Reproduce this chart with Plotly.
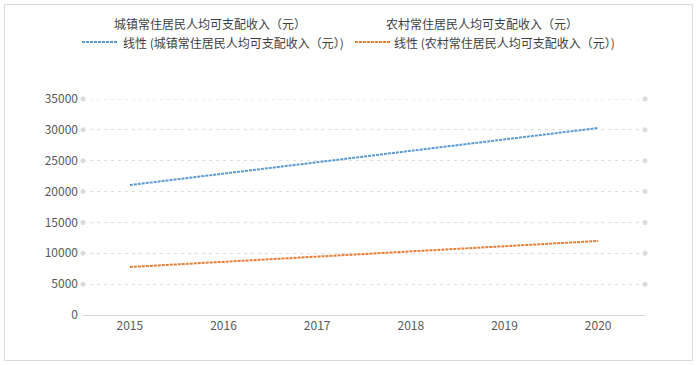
import numpy as np
import plotly.graph_objects as go

years = [2015, 2016, 2017, 2018, 2019, 2020]
urban = [21060, 22910, 24750, 26600, 28450, 30300]
rural = [7780, 8620, 9460, 10310, 11150, 11990]
grid_vals = [5000, 10000, 15000, 20000, 25000, 30000, 35000]
y_ticks = [0] + grid_vals
urban_name = "城镇常住居民人均可支配收入（元）"
rural_name = "农村常住居民人均可支配收入（元）"

W, H = 697, 365
L, R, T, B = 83, 52, 99, 50
PW, PH = W - L - R, H - T - B

def px(x):
    return (x - L) / PW

def py(y):
    return (H - B - y) / PH

FONT = "Noto Sans CJK SC, Open Sans, sans-serif"
BLUE = "#5b9bd5"
ORANGE = "#ed7d31"
GRID = "#dcdcdc"
GRID_DASH = "3px,4px"
DASH = "3px,1px"

yr = np.array(years, dtype=float)
cu = np.polyfit(yr, urban, 1)
cr = np.polyfit(yr, rural, 1)

fig = go.Figure()
# original series (no line, no marker, as in the reference)
fig.add_trace(go.Scatter(x=years, y=urban, mode="lines", line=dict(width=0, color=BLUE),
                         name=urban_name, showlegend=False))
fig.add_trace(go.Scatter(x=years, y=rural, mode="lines", line=dict(width=0, color=ORANGE),
                         name=rural_name, showlegend=False))
# gridline end dots
fig.add_trace(go.Scatter(x=[2014.5] * len(grid_vals) + [2020.5] * len(grid_vals),
                         y=grid_vals + grid_vals, mode="markers",
                         marker=dict(size=5, color=GRID), cliponaxis=False,
                         hoverinfo="skip", showlegend=False))
# linear trendlines
fig.add_trace(go.Scatter(x=years, y=np.polyval(cu, yr), mode="lines",
                         line=dict(color=BLUE, width=2, dash=DASH),
                         name="线性 (" + urban_name + ")", showlegend=False))
fig.add_trace(go.Scatter(x=years, y=np.polyval(cr, yr), mode="lines",
                         line=dict(color=ORANGE, width=2, dash=DASH),
                         name="线性 (" + rural_name + ")", showlegend=False))

legend_font = dict(family=FONT, size=12, color="#404040")
ann = [
    dict(text=urban_name, x=px(112), y=py(23)),
    dict(text=rural_name, x=px(384), y=py(23)),
    dict(text="线性 (" + urban_name + ")", x=px(121), y=py(42)),
    dict(text="线性 (" + rural_name + ")", x=px(392), y=py(42)),
]
annotations = [dict(xref="paper", yref="paper", xanchor="left", yanchor="middle",
                    showarrow=False, font=legend_font, **a) for a in ann]

shapes = [
    dict(type="line", xref="paper", yref="y", x0=0, x1=1, y0=grid_vals[-1], y1=grid_vals[-1],
         line=dict(color=GRID, width=1, dash=GRID_DASH), layer="below"),
    dict(type="line", xref="paper", yref="paper", x0=px(82), x1=px(118), y0=py(42), y1=py(42),
         line=dict(color=BLUE, width=2, dash=DASH)),
    dict(type="line", xref="paper", yref="paper", x0=px(355), x1=px(390), y0=py(42), y1=py(42),
         line=dict(color=ORANGE, width=2, dash=DASH)),
    dict(type="rect", xref="paper", yref="paper", x0=px(4.5), x1=px(692.5), y0=py(4.5), y1=py(360.5),
         line=dict(color="#d9d9d9", width=1), fillcolor="rgba(0,0,0,0)", layer="below"),
]

fig.update_layout(
    width=W, height=H,
    margin=dict(l=L, r=R, t=T, b=B, pad=0),
    paper_bgcolor="white", plot_bgcolor="white",
    font=dict(family=FONT, size=12, color="#595959"),
    showlegend=False,
    annotations=annotations,
    shapes=shapes,
    xaxis=dict(range=[2014.5, 2020.5], tickvals=years, ticktext=[str(y) for y in years],
               showgrid=False, zeroline=False, showline=True, linecolor="#d9d9d9", linewidth=1,
               ticks="", tickfont=dict(family=FONT, size=12, color="#595959"), fixedrange=True),
    yaxis=dict(range=[0, 35000], tickvals=y_ticks, ticktext=[str(v) for v in y_ticks],
               showgrid=True, gridcolor=GRID,
               griddash=GRID_DASH, gridwidth=1, zeroline=False, showline=False, ticks="",
               tickfont=dict(family=FONT, size=12, color="#595959"), ticklabelstandoff=4,
               fixedrange=True),
)

fig.write_html("out.html", config={"displayModeBar": False},
               post_script="document.body.style.margin='0';document.body.style.overflow='hidden';")
